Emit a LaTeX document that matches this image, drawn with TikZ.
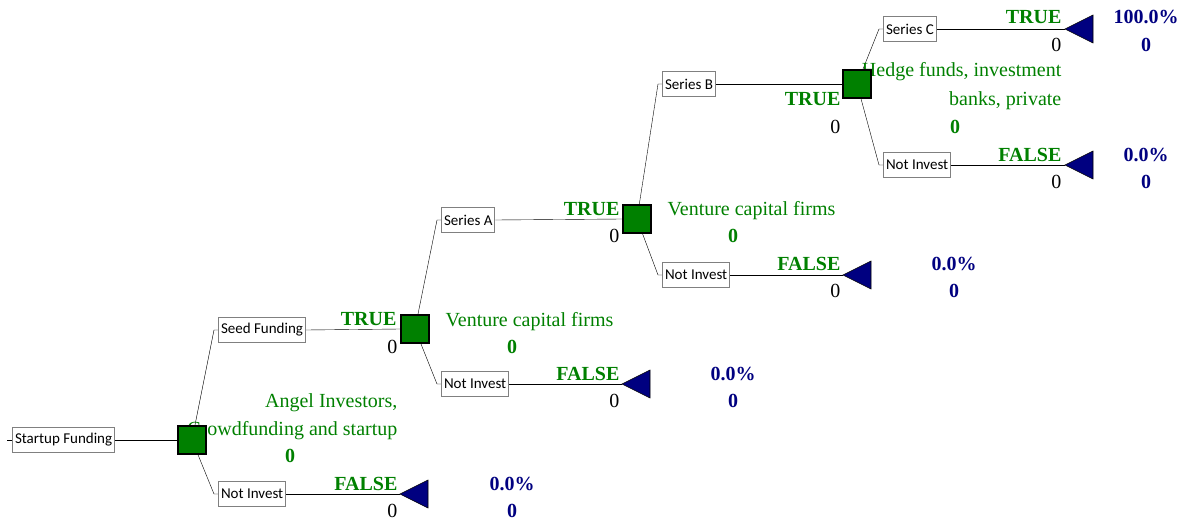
\documentclass[tikz,border=0pt]{standalone}
\usepackage{fontspec}
\setmainfont{Liberation Serif}
\newfontfamily\calfont{Carlito}
\usetikzlibrary{backgrounds}
\definecolor{dgreen}{RGB}{0,128,0}
\definecolor{dnavy}{RGB}{0,0,128}
\tikzset{
  choice/.style={draw=gray, fill=white, anchor=west, minimum height=25pt, inner sep=2.5pt,
    line width=1pt, font=\calfont\fontsize{15}{17}\selectfont},
  decision/.style={draw=black, fill=dgreen, minimum size=28pt, inner sep=0pt},
  endmark/.style={draw=black, fill=dnavy, line width=0.6pt},
  branch/.style={inner sep=0pt, text=dgreen, font=\bfseries\fontsize{20}{24}\selectfont},
  payoff/.style={inner sep=0pt, font=\fontsize{20}{24}\selectfont},
  prob/.style={inner sep=0pt, text=dnavy, font=\bfseries\fontsize{20}{24}\selectfont},
  note/.style={inner sep=0pt, text=dgreen, font=\fontsize{20}{24}\selectfont},
  notev/.style={inner sep=0pt, text=dgreen, font=\bfseries\fontsize{20}{24}\selectfont}
}
\begin{document}
\begin{tikzpicture}[x=1pt, y=-1pt, line width=1.3pt]
  \useasboundingbox (0,0) rectangle (1186,519);
  % notes under the decision squares
  \node[note, anchor=base east] (n1a) at (398,407) {Angel Investors,};
  \node[note, anchor=base east] (n1b) at (398,435) {Crowdfunding and startup};
  \node[notev, anchor=base] (n1v) at (290,462) {0};
  \node[note, anchor=base west] (n2a) at (445,326) {Venture capital firms};
  \node[notev, anchor=base] (n2v) at (512,353) {0};
  \node[note, anchor=base west] (n3a) at (667,215) {Venture capital firms};
  \node[notev, anchor=base] (n3v) at (733,242) {0};
  \node[note, anchor=base east] (n4a) at (1062,77) {Hedge funds, investment};
  \node[note, anchor=base east] (n4b) at (1062,106) {banks, private};
  \node[notev, anchor=base] (n4v) at (955,133) {0};

  % decisions
  \coordinate (stub) at (7,440);
  \node[choice] (start) at (12,440) {Startup Funding};
  \node[decision] (sq1) at (192,440) {};
  \node[decision] (sq2) at (415,329) {};
  \node[decision] (sq3) at (637,219) {};
  \node[decision] (sq4) at (857,84) {};

  % choices
  \node[choice] (seed) at (218,330) {Seed Funding};
  \node[choice] (no1) at (218,494) {Not Invest};
  \node[choice] (sera) at (441,220) {Series A};
  \node[choice] (no2) at (441,384) {Not Invest};
  \node[choice] (serb) at (662,84) {Series B};
  \node[choice] (no3) at (662,275) {Not Invest};
  \node[choice] (serc) at (883,29) {Series C};
  \node[choice] (no4) at (883,165) {Not Invest};

  % bends and end points
  \coordinate (b1u) at (214,330); \coordinate (b1d) at (214,494);
  \coordinate (b2u) at (437,220); \coordinate (b2d) at (437,384);
  \coordinate (b3u) at (658,84);  \coordinate (b3d) at (658,275);
  \coordinate (b4u) at (879,29);  \coordinate (b4d) at (879,165);
  \coordinate (e1) at (400,494);
  \coordinate (e2) at (622,384);
  \coordinate (e3) at (843,275);
  \coordinate (e4) at (1065,29);
  \coordinate (e5) at (1065,165);
  \foreach \e in {e1,e2,e3,e4,e5}
    \filldraw[endmark] (\e) -- ++(28,-14) -- ++(0,28) -- cycle;

  % branch labels
  \node[branch, anchor=base east] (t1) at (397,325) {TRUE};
  \node[payoff, anchor=base east] (v1) at (398,353) {0};
  \node[branch, anchor=base east] (f1) at (398,490) {FALSE};
  \node[payoff, anchor=base east] (w1) at (398,517) {0};
  \node[branch, anchor=base east] (t2) at (620,215) {TRUE};
  \node[payoff, anchor=base east] (v2) at (620,242) {0};
  \node[branch, anchor=base east] (f2) at (620,380) {FALSE};
  \node[payoff, anchor=base east] (w2) at (620,407) {0};
  \node[branch, anchor=base east] (t3) at (841,106) {TRUE};
  \node[payoff, anchor=base east] (v3) at (841,133) {0};
  \node[branch, anchor=base east] (f3) at (841,270) {FALSE};
  \node[payoff, anchor=base east] (w3) at (841,297) {0};
  \node[branch, anchor=base east] (t4) at (1062,24) {TRUE};
  \node[payoff, anchor=base east] (v4) at (1062,52) {0};
  \node[branch, anchor=base east] (f4) at (1062,161) {FALSE};
  \node[payoff, anchor=base east] (w4) at (1062,188) {0};

  % probabilities at the end points
  \node[prob, anchor=base] (p1) at (512,490) {0.0\%};
  \node[prob, anchor=base] (q1) at (512,517) {0};
  \node[prob, anchor=base] (p2) at (733,380) {0.0\%};
  \node[prob, anchor=base] (q2) at (733,407) {0};
  \node[prob, anchor=base] (p3) at (954,270) {0.0\%};
  \node[prob, anchor=base] (q3) at (954,297) {0};
  \node[prob, anchor=base] (p4) at (1146,24) {100.0\%};
  \node[prob, anchor=base] (q4) at (1146,52) {0};
  \node[prob, anchor=base] (p5) at (1146,161) {0.0\%};
  \node[prob, anchor=base] (q5) at (1146,188) {0};

  \begin{pgfonlayer}{background}
    \draw (stub) -- (start.west);
    \draw (start.east) -- (sq1.west);
    \draw (sq1.center) -- (b1u) -- (seed.west);
    \draw (sq1.center) -- (b1d) -- (no1.west);
    \draw (seed.east) -- (sq2.west);
    \draw (no1.east) -- (e1);
    \draw (sq2.center) -- (b2u) -- (sera.west);
    \draw (sq2.center) -- (b2d) -- (no2.west);
    \draw (sera.east) -- (sq3.west);
    \draw (no2.east) -- (e2);
    \draw (sq3.center) -- (b3u) -- (serb.west);
    \draw (sq3.center) -- (b3d) -- (no3.west);
    \draw (serb.east) -- (sq4.west);
    \draw (no3.east) -- (e3);
    \draw (sq4.center) -- (b4u) -- (serc.west);
    \draw (sq4.center) -- (b4d) -- (no4.west);
    \draw (serc.east) -- (e4);
    \draw (no4.east) -- (e5);
  \end{pgfonlayer}
\end{tikzpicture}
\end{document}
